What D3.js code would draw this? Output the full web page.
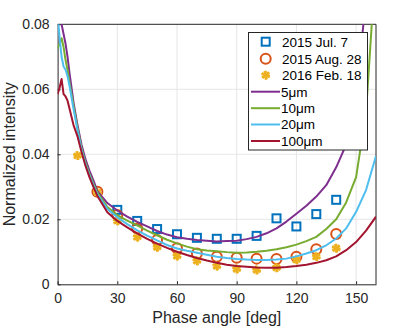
<!DOCTYPE html>
<html>
<head>
<meta charset="utf-8">
<script src="https://cdn.jsdelivr.net/npm/d3@7"></script>
<style>
  body { margin: 0; background: #fff; }
  svg { font-family: "Liberation Sans", Arial, sans-serif; }
  .axisLabel { font-size: 16px; fill: #262626; }
  .legendText { font-size: 13.5px; fill: #000; }
</style>
</head>
<body>
<div class="chart"></div>
<script>
// observed data, phase angle in deg
var obsAngles = [10, 20, 30, 40, 50, 60, 70, 80, 90, 100, 110, 120, 130, 140];
var jul7  = [null, null, 0.0229, 0.0195, 0.0170, 0.0154, 0.0143, 0.0140, 0.0140, 0.0149, 0.0203, 0.0178, 0.0216, 0.0260];
var aug28 = [null, 0.0285, 0.0213, 0.0172, 0.0136, 0.0111, 0.0095, 0.0085, 0.0082, 0.0079, 0.0078, 0.0085, 0.0108, 0.0155];
var feb18 = [0.0396, 0.0283, 0.0195, 0.0145, 0.0114, 0.0087, 0.0072, 0.0056, 0.0047, 0.0044, 0.0051, 0.0075, 0.0085, 0.0111];

// model curves
var modelAngles = [0, 1, 2, 3, 4, 5, 6, 8, 10, 12, 14, 16, 18, 20, 25, 30, 35, 40, 45, 50, 55, 60, 65, 70, 75,
                   80, 85, 90, 95, 100, 105, 110, 115, 120, 125, 130, 135, 140, 145, 150, 155, 160];
var um5   = [0.095, 0.086, 0.080, 0.077, 0.074, 0.070, 0.065, 0.056, 0.049, 0.043, 0.0385, 0.035, 0.032, 0.0287, 0.0250,
             0.0227, 0.0208, 0.0192, 0.0178, 0.0164, 0.0153, 0.0145, 0.0140, 0.0136, 0.0134, 0.0132, 0.0133, 0.0134,
             0.0139, 0.0146, 0.0157, 0.0172, 0.0193, 0.0217, 0.0242, 0.0270, 0.0305, 0.0360, 0.0430, 0.058, 0.088, 0.13];
var um10  = [0.0726, 0.074, 0.0757, 0.073, 0.069, 0.066, 0.062, 0.055, 0.048, 0.042, 0.0375, 0.034, 0.031, 0.0282, 0.0238,
             0.0213, 0.0196, 0.0181, 0.0165, 0.0151, 0.0137, 0.0126, 0.0116, 0.0108, 0.0104, 0.0102, 0.0099, 0.0097,
             0.0098, 0.0100, 0.0103, 0.0108, 0.0114, 0.0122, 0.0133, 0.0146, 0.0170, 0.0200, 0.0252, 0.0330, 0.053, 0.10];
var um20  = [0.083, 0.076, 0.070, 0.067, 0.066, 0.064, 0.061, 0.054, 0.0475, 0.0415, 0.037, 0.0335, 0.0305, 0.0277, 0.0232,
             0.0206, 0.0185, 0.0166, 0.0150, 0.0135, 0.0121, 0.0110, 0.0103, 0.0097, 0.0091, 0.0085, 0.0081, 0.0078,
             0.0076, 0.0075, 0.0075, 0.0076, 0.0079, 0.0086, 0.0095, 0.0105, 0.0120, 0.0141, 0.0172, 0.0223, 0.0290, 0.0395];
var um100 = [0.0585, 0.0605, 0.0632, 0.0585, 0.0578, 0.0565, 0.0540, 0.0490, 0.0455, 0.0408, 0.0365, 0.0330, 0.0300, 0.0272, 0.0222,
             0.0195, 0.0175, 0.0157, 0.0140, 0.0125, 0.0112, 0.0100, 0.0090, 0.0081, 0.0073, 0.0066, 0.0060, 0.0056,
             0.0054, 0.0052, 0.0051, 0.0051, 0.0053, 0.0056, 0.0060, 0.0066, 0.0074, 0.0086, 0.0105, 0.0130, 0.0165, 0.0208];

var xTicks = [0, 30, 60, 90, 120, 150];
var yTicks = [0, 0.02, 0.04, 0.06, 0.08];

var width = 415, height = 328;
var margin = { top: 24.3, right: 39, bottom: 43.7, left: 57.6 };
var axisColor = "#262626";

var svg = d3.select(".chart").append("svg")
            .attr("width", width)
            .attr("height", height);

var scaleX = d3.scaleLinear().domain([0, 160]).range([margin.left, width - margin.right]);
var scaleY = d3.scaleLinear().domain([0, 0.08]).range([height - margin.bottom, margin.top]);

// grid
svg.append("g").selectAll("line")
   .data(xTicks.slice(1))
   .enter().append("line")
   .attr("x1", d => scaleX(d)).attr("x2", d => scaleX(d))
   .attr("y1", scaleY(0)).attr("y2", scaleY(0.08))
   .style("stroke", "#e6e6e6").style("stroke-width", 1);

svg.append("g").selectAll("line")
   .data(yTicks.slice(1, -1))
   .enter().append("line")
   .attr("x1", scaleX(0)).attr("x2", scaleX(160))
   .attr("y1", d => scaleY(d)).attr("y2", d => scaleY(d))
   .style("stroke", "#e6e6e6").style("stroke-width", 1);

// axes
var axisBottom = d3.axisBottom(scaleX).tickValues(xTicks)
                   .tickSizeInner(-3).tickSizeOuter(0).tickPadding(9);
var axisLeft = d3.axisLeft(scaleY).tickValues(yTicks)
                 .tickFormat(d => d === 0 ? "0" : d3.format(".2f")(d))
                 .tickSizeInner(-3).tickSizeOuter(0).tickPadding(8);

var gx = svg.append("g")
   .attr("transform", "translate(0," + scaleY(0) + ")")
   .call(axisBottom);
var gy = svg.append("g")
   .attr("transform", "translate(" + scaleX(0) + ",0)")
   .call(axisLeft);
[gx, gy].forEach(function(g) {
  g.select(".domain").style("stroke", axisColor);
  g.selectAll(".tick line").style("stroke", axisColor);
  g.selectAll(".tick text")
   .style("font-size", "14px").style("fill", axisColor);
});

// box top and right
svg.append("line")
   .attr("x1", scaleX(0)).attr("x2", scaleX(160))
   .attr("y1", scaleY(0.08)).attr("y2", scaleY(0.08))
   .style("stroke", axisColor);
svg.append("line")
   .attr("x1", scaleX(160)).attr("x2", scaleX(160))
   .attr("y1", scaleY(0.08)).attr("y2", scaleY(0))
   .style("stroke", axisColor);

svg.append("text")
   .attr("class", "axisLabel")
   .attr("x", (scaleX(0) + scaleX(160)) / 2)
   .attr("y", 323)
   .style("text-anchor", "middle")
   .text("Phase angle [deg]");

svg.append("text")
   .attr("class", "axisLabel")
   .attr("transform", "translate(15," + ((scaleY(0) + scaleY(0.08)) / 2) + ") rotate(-90)")
   .style("text-anchor", "middle")
   .text("Normalized intensity");

// clip
svg.append("clipPath").attr("id", "plotClip")
   .append("rect")
   .attr("x", scaleX(0)).attr("y", scaleY(0.08))
   .attr("width", scaleX(160) - scaleX(0))
   .attr("height", scaleY(0) - scaleY(0.08));

var plot = svg.append("g").attr("clip-path", "url(#plotClip)");

var observations = [
  { name: "2015 Jul. 7",   values: jul7,  color: "#0072BD", shape: "square" },
  { name: "2015 Aug. 28",  values: aug28, color: "#D95319", shape: "circle" },
  { name: "2016 Feb. 18",  values: feb18, color: "#EDB120", shape: "star" }
];

var models = [
  { name: "5\u03bcm",   values: um5,   color: "#7E2F8E" },
  { name: "10\u03bcm",  values: um10,  color: "#77AC30" },
  { name: "20\u03bcm",  values: um20,  color: "#4DBEEE" },
  { name: "100\u03bcm", values: um100, color: "#A2142F" }
];

function drawMarker(g, shape, color) {
  if (shape === "square") {
    g.append("rect").attr("x", -4).attr("y", -4).attr("width", 8).attr("height", 8)
     .style("fill", "none").style("stroke", color).style("stroke-width", 2);
  } else if (shape === "circle") {
    g.append("circle").attr("r", 5)
     .style("fill", "none").style("stroke", color).style("stroke-width", 2);
  } else {
    g.append("path").attr("d", d3.symbol(d3.symbolAsterisk, 55)())
     .style("fill", "none").style("stroke", color).style("stroke-width", 2.2);
    g.append("path").attr("d", d3.symbol(d3.symbolAsterisk, 55)())
     .attr("transform", "rotate(45)")
     .style("fill", "none").style("stroke", color).style("stroke-width", 2.2);
  }
}

observations.forEach(function(s) {
  obsAngles.forEach(function(a, i) {
    if (s.values[i] === null) return;
    var g = plot.append("g")
                .attr("transform", "translate(" + scaleX(a) + "," + scaleY(s.values[i]) + ")");
    drawMarker(g, s.shape, s.color);
  });
});

var line = d3.line()
             .x(function(d, i) { return scaleX(modelAngles[i]); })
             .y(function(d) { return scaleY(d); });

models.forEach(function(m) {
  plot.append("path")
      .datum(m.values)
      .attr("d", line)
      .style("fill", "none")
      .style("stroke", m.color)
      .style("stroke-width", 2)
      .style("stroke-linejoin", "round");
});

// legend
var legend = svg.append("g");
legend.append("rect")
      .attr("x", 248.5).attr("y", 32.5).attr("width", 119).attr("height", 117.5)
      .style("fill", "#fff").style("stroke", axisColor).style("stroke-width", 1);

var rowY = [41.7, 58.7, 75.2, 91.7, 108.2, 124.5, 141];
observations.forEach(function(s, i) {
  var g = legend.append("g").attr("transform", "translate(265.7," + rowY[i] + ")");
  drawMarker(g, s.shape, s.color);
  legend.append("text").attr("class", "legendText")
        .attr("x", 282).attr("y", rowY[i] + 4.8).text(s.name);
});
models.forEach(function(m, j) {
  var y = rowY[j + 3];
  legend.append("line")
        .attr("x1", 251).attr("x2", 280).attr("y1", y).attr("y2", y)
        .style("stroke", m.color).style("stroke-width", 2);
  legend.append("text").attr("class", "legendText")
        .attr("x", 281).attr("y", y + 4.8).text(m.name);
});
</script>
</body>
</html>
